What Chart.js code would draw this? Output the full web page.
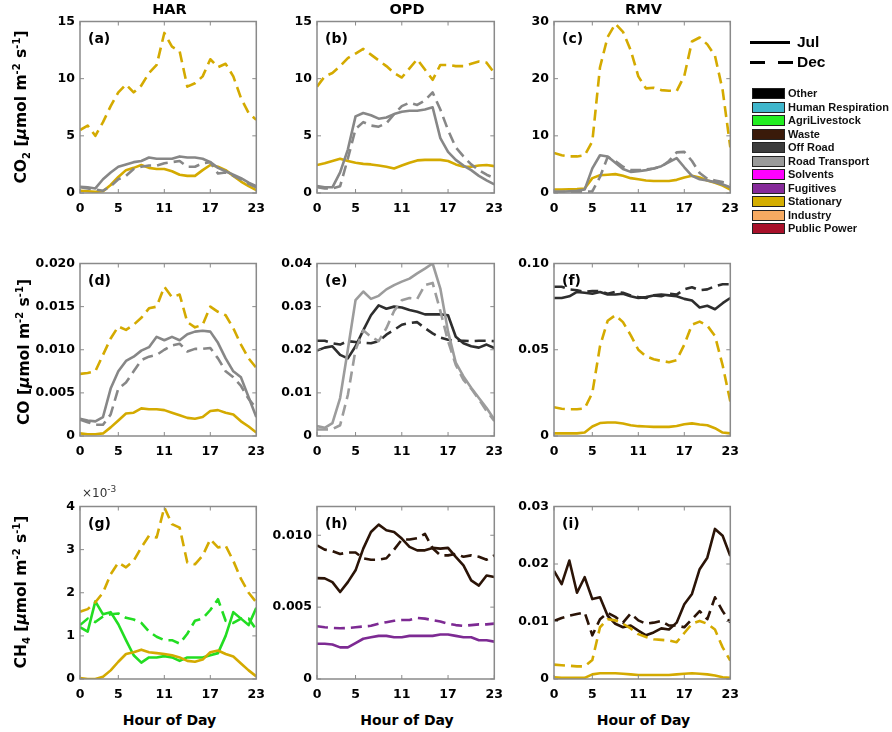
<!DOCTYPE html>
<html><head><meta charset="utf-8">
<script src="https://cdn.jsdelivr.net/npm/chart.js@4.4.1/dist/chart.umd.min.js"></script>
<style>
body{margin:0;background:#fff;}
#root{position:relative;width:892px;height:732px;overflow:hidden;font-family:"DejaVu Sans",sans-serif;background:#fff;}
canvas{position:absolute;}
.t{position:absolute;white-space:nowrap;color:#000;}
.title{font-weight:bold;font-size:14.5px;width:120px;text-align:center;line-height:16px;}
.ylab{font-weight:bold;font-size:15.5px;transform:translate(-50%,-50%) rotate(-90deg);line-height:18px;}
.ylab i{font-style:italic;}
.ylab sup,.ylab sub{font-size:10px;}
.xlab{font-weight:bold;font-size:14px;width:140px;text-align:center;line-height:16px;}
.plab{font-weight:bold;font-size:14px;line-height:16px;}
.lg{font-family:"Liberation Sans",Arial,sans-serif;font-weight:bold;}
.box{position:absolute;width:33px;height:11px;box-sizing:border-box;border:1px solid #222;}
.ltxt{position:absolute;font-family:"Liberation Sans",Arial,sans-serif;font-weight:bold;font-size:11px;line-height:11px;color:#111;}
</style></head><body><div id="root"></div>
<script>
// ---------- axes ----------
const hours = [0,1,2,3,4,5,6,7,8,9,10,11,12,13,14,15,16,17,18,19,20,21,22,23];
const xTicks = [0,5,11,17,23];
const siteTitles = ['HAR','OPD','RMV'];
const yTicksCO2ab = [0,5,10,15];        const yLabCO2ab = ['0','5','10','15'];
const yTicksCO2c = [0,10,20,30];        const yLabCO2c = ['0','10','20','30'];
const yTicksCOd = [0,0.005,0.01,0.015,0.02]; const yLabCOd = ['0','0.005','0.010','0.015','0.020'];
const yTicksCOe = [0,0.01,0.02,0.03,0.04];   const yLabCOe = ['0','0.01','0.02','0.03','0.04'];
const yTicksCOf = [0,0.05,0.1];              const yLabCOf = ['0','0.05','0.10'];
const yTicksCH4g = [0,0.001,0.002,0.003,0.004]; const yLabCH4g = ['0','1','2','3','4'];
const yTicksCH4h = [0,0.005,0.01];           const yLabCH4h = ['0','0.005','0.010'];
const yTicksCH4i = [0,0.01,0.02,0.03];       const yLabCH4i = ['0','0.01','0.02','0.03'];

// ---------- CO2 ----------
const a_statDec = [5.5,5.9,5.0,6.2,7.6,8.8,9.5,8.8,9.4,10.5,11.2,14.0,12.8,12.4,9.3,9.6,10.2,11.7,11.0,11.3,10.2,8.3,7.0,6.4];
const a_statJul = [0.2,0.15,0.1,0.15,0.7,1.4,2.0,2.2,2.45,2.2,2.1,2.1,1.9,1.6,1.5,1.5,2.0,2.45,2.3,2.0,1.5,1.0,0.6,0.25];
const a_roadJul = [0.55,0.5,0.4,1.2,1.8,2.3,2.5,2.7,2.8,3.1,3.0,3.0,3.0,3.2,3.1,3.1,3.0,2.7,2.2,1.9,1.6,1.3,0.9,0.6];
const a_roadDec = [0.5,0.4,0.3,0.2,0.6,1.2,1.5,2.1,2.3,2.4,2.4,2.6,2.7,2.8,2.3,2.3,2.6,2.7,1.7,1.8,1.5,1.2,0.8,0.5];

const b_statDec = [9.3,10.2,10.5,11.1,11.8,12.2,12.6,12.1,11.6,11.1,10.5,10.1,10.9,11.7,10.8,9.9,11.2,11.2,11.1,11.1,11.3,11.5,11.4,10.5];
const b_statJul = [2.45,2.6,2.8,3.0,2.8,2.65,2.55,2.5,2.4,2.3,2.15,2.4,2.65,2.85,2.9,2.9,2.9,2.8,2.5,2.3,2.3,2.4,2.45,2.35];
const b_roadJul = [0.6,0.5,0.5,1.8,3.8,6.7,7.0,6.8,6.5,6.6,6.9,7.1,7.2,7.2,7.3,7.5,4.8,3.6,2.9,2.4,2.0,1.5,1.1,0.75];
const b_roadDec = [0.5,0.4,0.4,0.6,3.0,5.6,6.2,5.9,5.8,6.1,6.9,7.6,7.9,7.7,8.1,8.8,7.3,5.5,4.0,3.2,2.5,2.0,1.6,1.3];

const c_statDec = [7.0,6.6,6.4,6.4,6.6,9.0,22.0,27.3,29.6,28.2,25.0,20.4,18.3,18.4,18.0,17.9,17.8,20.5,26.5,27.2,26.0,24.0,18.0,8.0];
const c_statJul = [0.6,0.6,0.65,0.7,0.8,2.6,3.1,3.2,3.3,3.0,2.6,2.4,2.2,2.1,2.1,2.1,2.3,2.7,3.0,2.7,2.2,1.8,1.3,0.6];
const c_roadJul = [0.2,0.2,0.3,0.4,0.6,4.3,6.6,6.4,5.3,4.2,3.7,3.8,4.0,4.3,4.7,5.4,6.1,4.5,3.0,2.4,2.2,1.9,1.5,1.0];
const c_roadDec = [0.2,0.2,0.2,0.2,0.2,0.3,2.8,6.3,5.6,4.6,4.0,4.0,4.1,4.3,4.6,5.6,7.1,7.2,5.6,3.5,2.5,2.2,1.9,1.6];

// ---------- CO ----------
const d_statDec = [0.0072,0.0073,0.0075,0.0094,0.0113,0.0127,0.0123,0.0129,0.0137,0.0148,0.0150,0.0173,0.0161,0.0164,0.0132,0.0126,0.0129,0.0150,0.0144,0.0140,0.0125,0.0106,0.0090,0.0079];
const d_statJul = [0.0003,0.0002,0.0002,0.0003,0.0010,0.0018,0.0026,0.0027,0.0032,0.0031,0.0031,0.0030,0.0027,0.0024,0.0021,0.0020,0.0022,0.0029,0.0030,0.0027,0.0025,0.0017,0.0011,0.0004];
const d_roadJul = [0.0020,0.0018,0.0017,0.0022,0.0055,0.0075,0.0087,0.0092,0.0099,0.0103,0.0115,0.0111,0.0115,0.0111,0.0118,0.0121,0.0122,0.0121,0.0108,0.0090,0.0075,0.0068,0.0045,0.0022];
const d_roadDec = [0.0019,0.0016,0.0013,0.0013,0.0025,0.0055,0.0062,0.0075,0.0088,0.0092,0.0094,0.0100,0.0105,0.0107,0.0098,0.0101,0.0101,0.0102,0.0090,0.0075,0.0068,0.0058,0.0043,0.0032];

const e_roadJul = [0.0023,0.0019,0.0030,0.0088,0.0200,0.0315,0.0335,0.0318,0.0325,0.0340,0.0350,0.0358,0.0365,0.0377,0.0388,0.0400,0.0342,0.0242,0.0170,0.0138,0.0112,0.0088,0.0065,0.0038];
const e_roadDec = [0.0015,0.0015,0.0016,0.0025,0.0095,0.0200,0.0245,0.0230,0.0220,0.0250,0.0290,0.0315,0.0320,0.0318,0.0350,0.0355,0.0290,0.0220,0.0165,0.0130,0.0110,0.0085,0.0058,0.0035];
const e_offJul  = [0.0198,0.0205,0.0208,0.0188,0.0180,0.0208,0.0245,0.0280,0.0303,0.0295,0.0300,0.0298,0.0292,0.0288,0.0282,0.0282,0.0282,0.0280,0.0230,0.0215,0.0208,0.0205,0.0212,0.0204];
const e_offDec  = [0.0221,0.0221,0.0215,0.0212,0.0220,0.0218,0.0216,0.0215,0.0220,0.0235,0.0246,0.0258,0.0262,0.0264,0.0250,0.0238,0.0228,0.0223,0.0221,0.0221,0.0220,0.0221,0.0221,0.0220];

const f_offJul  = [0.0800,0.0800,0.0810,0.0835,0.0830,0.0825,0.0835,0.0820,0.0820,0.0825,0.0810,0.0800,0.0805,0.0815,0.0820,0.0815,0.0810,0.0795,0.0785,0.0745,0.0755,0.0735,0.0770,0.0800];
const f_offDec  = [0.0865,0.0865,0.0850,0.0845,0.0835,0.0840,0.0840,0.0825,0.0835,0.0830,0.0815,0.0805,0.0800,0.0815,0.0810,0.0825,0.0820,0.0850,0.0862,0.0845,0.0850,0.0868,0.0880,0.0880];
const f_statDec = [0.0167,0.0158,0.0155,0.0155,0.0160,0.0250,0.0520,0.0668,0.0700,0.0660,0.0585,0.0500,0.0462,0.0445,0.0435,0.0428,0.0440,0.0530,0.0645,0.0663,0.0640,0.0580,0.0410,0.0200];
const f_statJul = [0.0015,0.0015,0.0015,0.0015,0.0020,0.0055,0.0075,0.0078,0.0078,0.0072,0.0062,0.0057,0.0055,0.0053,0.0053,0.0053,0.0058,0.0068,0.0073,0.0067,0.0062,0.0045,0.0020,0.0015];

// ---------- CH4 ----------
const g_statDec = [0.00156,0.00162,0.00178,0.00200,0.00243,0.00270,0.00259,0.00274,0.00305,0.00332,0.00328,0.00398,0.00359,0.00351,0.00270,0.00266,0.00286,0.00324,0.00305,0.00309,0.00274,0.00232,0.00200,0.00178];
const g_statJul = [0.00002,0.0,0.0,0.00005,0.00020,0.00040,0.00058,0.00062,0.00068,0.00062,0.00060,0.00058,0.00055,0.00050,0.00042,0.00040,0.00045,0.00062,0.00066,0.00058,0.00052,0.00036,0.00020,0.00006];
const g_agriJul = [0.00120,0.00110,0.00180,0.00150,0.00155,0.00127,0.00090,0.00055,0.00038,0.00050,0.00050,0.00053,0.00050,0.00042,0.00050,0.00050,0.00050,0.00055,0.00060,0.00100,0.00155,0.00140,0.00125,0.00165];
const g_agriDec = [0.00125,0.00140,0.00132,0.00145,0.00150,0.00152,0.00142,0.00138,0.00130,0.00110,0.00098,0.00090,0.00090,0.00082,0.00105,0.00135,0.00140,0.00160,0.00185,0.00135,0.00130,0.00140,0.00140,0.00115];

const h_wasteJul = [0.00702,0.00700,0.00674,0.00605,0.00674,0.00756,0.00907,0.01023,0.01074,0.01035,0.01023,0.00977,0.00919,0.00895,0.00895,0.00912,0.00907,0.00912,0.00849,0.00790,0.00686,0.00650,0.00720,0.00710];
const h_wasteDec = [0.0093,0.0090,0.0089,0.0087,0.0088,0.0088,0.0084,0.0083,0.0083,0.0084,0.0090,0.0097,0.0097,0.0098,0.0101,0.0091,0.0086,0.0086,0.0087,0.0085,0.0086,0.0085,0.0083,0.0086];
const h_fugJul = [0.00245,0.00245,0.0024,0.0022,0.0022,0.0025,0.0028,0.0029,0.0030,0.0030,0.0029,0.0029,0.0030,0.0030,0.0030,0.0030,0.0031,0.0031,0.0030,0.0029,0.0029,0.0027,0.0027,0.0026];
const h_fugDec = [0.00367,0.00360,0.00355,0.00353,0.00355,0.00360,0.00365,0.00370,0.00385,0.00395,0.00405,0.00410,0.00410,0.00425,0.00420,0.00410,0.00400,0.00385,0.00375,0.00370,0.00375,0.00380,0.00380,0.00385];

const i_wasteJul = [0.0188,0.0165,0.0206,0.0150,0.0177,0.0139,0.0142,0.0110,0.0096,0.0090,0.0093,0.0084,0.0076,0.0081,0.0088,0.0086,0.0098,0.0130,0.0148,0.0191,0.0211,0.0261,0.0249,0.0214];
const i_wasteDec = [0.0101,0.0106,0.0110,0.0113,0.0116,0.0076,0.0104,0.0115,0.0108,0.0098,0.0114,0.0102,0.0096,0.0098,0.0101,0.0093,0.0093,0.0090,0.0104,0.0118,0.0104,0.0142,0.0118,0.0098];
const i_statDec = [0.0025,0.0024,0.0023,0.0022,0.0022,0.0033,0.0090,0.0104,0.0102,0.0096,0.0088,0.0078,0.0073,0.0069,0.0068,0.0067,0.0064,0.0080,0.0096,0.0101,0.0096,0.0086,0.0055,0.0032];
const i_statJul = [0.0003,0.0002,0.0002,0.0002,0.0002,0.0008,0.0010,0.0010,0.0010,0.0009,0.0008,0.0007,0.0007,0.0007,0.0007,0.0007,0.0008,0.0009,0.0010,0.0009,0.0008,0.0006,0.0003,0.0002];

// ---------- legend ----------
const sectorNames  = ['Other','Human Respiration','AgriLivestock','Waste','Off Road','Road Transport','Solvents','Fugitives','Stationary','Industry','Public Power'];
const sectorColors = ['#000000','#3fb6cc','#22ee22','#3a1a0a','#3c3c3c','#9a9a9a','#ff00ff','#862a9a','#d4ae00','#f6aa62','#a8102a'];

// line colours
const C_STAT = '#d4aa00', C_ROAD = '#878787', C_ROAD2 = '#9c9c9c', C_OFF = '#2e2e2e', C_WASTE = '#2b1407', C_FUG = '#7d2a93', C_AGRI = '#22dd22';

// ---------- layout ----------
const COLS = [80, 317, 554], WIDTHS = [179, 180, 179];
const ROWS = [21, 263, 506], HEIGHTS = [172, 173, 173];
const YW = 70, PT = 12, PR = 14, XH = 30;
const root = document.getElementById('root');

const S = (data, color, dash) => ({data, color, dash});
const panels = [
  {tag:'(a)', col:0,row:0, max:15, yt:yTicksCO2ab, yl:yLabCO2ab, series:[S(a_roadDec,C_ROAD,1),S(a_roadJul,C_ROAD,0),S(a_statDec,C_STAT,1),S(a_statJul,C_STAT,0)]},
  {tag:'(b)', col:1,row:0, max:15, yt:yTicksCO2ab, yl:yLabCO2ab, series:[S(b_roadDec,C_ROAD,1),S(b_roadJul,C_ROAD,0),S(b_statDec,C_STAT,1),S(b_statJul,C_STAT,0)]},
  {tag:'(c)', col:2,row:0, max:30, yt:yTicksCO2c, yl:yLabCO2c, series:[S(c_roadDec,C_ROAD,1),S(c_roadJul,C_ROAD,0),S(c_statDec,C_STAT,1),S(c_statJul,C_STAT,0)]},
  {tag:'(d)', col:0,row:1, max:0.02, yt:yTicksCOd, yl:yLabCOd, series:[S(d_roadDec,C_ROAD,1),S(d_roadJul,C_ROAD,0),S(d_statDec,C_STAT,1),S(d_statJul,C_STAT,0)]},
  {tag:'(e)', col:1,row:1, max:0.04, yt:yTicksCOe, yl:yLabCOe, series:[S(e_roadDec,C_ROAD2,1),S(e_roadJul,C_ROAD2,0),S(e_offDec,C_OFF,1),S(e_offJul,C_OFF,0)]},
  {tag:'(f)', col:2,row:1, max:0.1, yt:yTicksCOf, yl:yLabCOf, series:[S(f_offDec,C_OFF,1),S(f_offJul,C_OFF,0),S(f_statDec,C_STAT,1),S(f_statJul,C_STAT,0)]},
  {tag:'(g)', col:0,row:2, max:0.004, yt:yTicksCH4g, yl:yLabCH4g, series:[S(g_statDec,C_STAT,1),S(g_statJul,C_STAT,0),S(g_agriDec,C_AGRI,1),S(g_agriJul,C_AGRI,0)]},
  {tag:'(h)', col:1,row:2, max:0.012, yt:yTicksCH4h, yl:yLabCH4h, series:[S(h_fugDec,C_FUG,1),S(h_fugJul,C_FUG,0),S(h_wasteDec,C_WASTE,1),S(h_wasteJul,C_WASTE,0)]},
  {tag:'(i)', col:2,row:2, max:0.03, yt:yTicksCH4i, yl:yLabCH4i, series:[S(i_statDec,C_STAT,1),S(i_statJul,C_STAT,0),S(i_wasteDec,C_WASTE,1),S(i_wasteJul,C_WASTE,0)]}
];

const tickFont = {family:'DejaVu Sans', weight:'bold', size:12.5};

const boxPlugin = {
  id:'boxTicks',
  afterDraw(chart){
    const {ctx, chartArea:a, scales:{x,y}} = chart;
    ctx.save();
    ctx.strokeStyle = '#8a8a8a'; ctx.lineWidth = 1.5;
    ctx.strokeRect(a.left, a.top, a.right - a.left, a.bottom - a.top);
    ctx.lineWidth = 1;
    const L = 4;
    ctx.beginPath();
    x.ticks.forEach(t => {
      const px = x.getPixelForValue(t.value);
      ctx.moveTo(px, a.bottom); ctx.lineTo(px, a.bottom - L);
      ctx.moveTo(px, a.top); ctx.lineTo(px, a.top + L);
    });
    y.ticks.forEach(t => {
      const py = y.getPixelForValue(t.value);
      ctx.moveTo(a.left, py); ctx.lineTo(a.left + L, py);
      ctx.moveTo(a.right, py); ctx.lineTo(a.right - L, py);
    });
    ctx.stroke();
    ctx.restore();
  }
};

function addText(cls, html, left, top, extra){
  const d = document.createElement('div');
  d.className = 't ' + cls;
  d.innerHTML = html;
  d.style.left = left + 'px'; d.style.top = top + 'px';
  if (extra) Object.assign(d.style, extra);
  root.appendChild(d);
  return d;
}

panels.forEach(p => {
  const L = COLS[p.col], T = ROWS[p.row], W = WIDTHS[p.col], H = HEIGHTS[p.row];
  const cv = document.createElement('canvas');
  cv.width = W + YW + PR; cv.height = H + PT + XH;
  cv.style.left = (L - YW) + 'px'; cv.style.top = (T - PT) + 'px';
  cv.style.width = cv.width + 'px'; cv.style.height = cv.height + 'px';
  root.appendChild(cv);
  new Chart(cv, {
    type:'line',
    data:{datasets: p.series.map(s => ({
      data: hours.map((h, k) => ({x:h, y:s.data[k]})),
      borderColor: s.color, borderWidth: 2.6, borderDash: s.dash ? [11,6] : [],
      pointRadius: 0, fill:false, tension:0, borderCapStyle:'butt', borderJoinStyle:'round'
    }))},
    options:{
      responsive:false, animation:false, devicePixelRatio:1,
      layout:{padding:{top:PT, right:PR, left:0, bottom:0}},
      plugins:{legend:{display:false}, tooltip:{enabled:false}},
      scales:{
        x:{type:'linear', min:0, max:23,
           afterBuildTicks: s => { s.ticks = xTicks.map(v => ({value:v})); },
           afterFit: s => { s.height = XH; },
           grid:{display:false, drawTicks:false}, border:{display:false},
           ticks:{font:tickFont, color:'#000', padding:8, autoSkip:false, maxRotation:0,
                  callback: v => String(v)}},
        y:{type:'linear', min:0, max:p.max,
           afterBuildTicks: s => { s.ticks = p.yt.map(v => ({value:v})); },
           afterFit: s => { s.width = YW; },
           grid:{display:false, drawTicks:false}, border:{display:false},
           ticks:{font:tickFont, color:'#000', padding:5, autoSkip:false,
                  callback: (v, i) => p.yl[i]}}
      }
    },
    plugins:[boxPlugin]
  });
  addText('plab', p.tag, L + 8, T + 9);
});

// titles
siteTitles.forEach((s, c) => addText('title', s, COLS[c] + WIDTHS[c]/2 - 60, 1));
// x labels
[0,1,2].forEach(c => addText('xlab', 'Hour of Day', COLS[c] + WIDTHS[c]/2 - 70, 712));
// y labels
const unit = ' [<i>μ</i>mol m<sup>-2</sup> s<sup>-1</sup>]';
addText('ylab', 'CO<sub>2</sub>' + unit, 22, 107);
addText('ylab', 'CO' + unit, 22, 352);
addText('ylab', 'CH<sub>4</sub>' + unit, 22, 592);
// x10^-3
addText('', '×10<sup style="font-size:9px">-3</sup>', 82, 482, {fontSize:'12px', color:'#333', lineHeight:'14px'});

// legend: months
const lineDiv = (l, t, w) => { const d = document.createElement('div'); Object.assign(d.style,{position:'absolute',left:l+'px',top:t+'px',width:w+'px',height:'3px',background:'#000'}); root.appendChild(d); };
lineDiv(750, 41, 40);
lineDiv(750, 61, 15); lineDiv(778, 61, 15);
addText('lg', 'Jul', 797, 33, {fontSize:'15.5px', lineHeight:'17px'});
addText('lg', 'Dec', 797, 53, {fontSize:'15.5px', lineHeight:'17px'});
// legend: sectors
sectorNames.forEach((n, k) => {
  const top = 88 + k * 13.5;
  const b = document.createElement('div');
  b.className = 'box'; b.style.left = '752px'; b.style.top = top + 'px'; b.style.background = sectorColors[k];
  root.appendChild(b);
  const t = document.createElement('div');
  t.className = 'ltxt'; t.textContent = n; t.style.left = '788px'; t.style.top = top + 'px';
  root.appendChild(t);
});
</script>
</body></html>
